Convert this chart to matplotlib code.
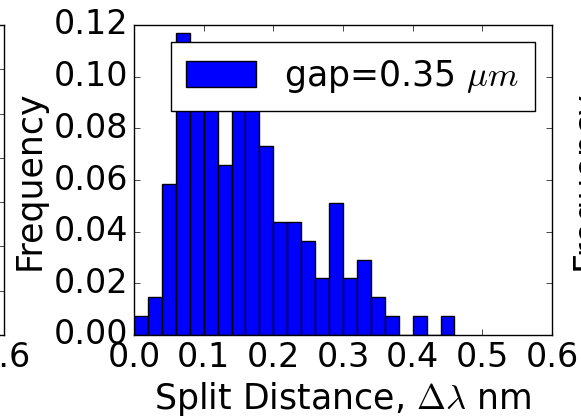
import numpy as np
import matplotlib
matplotlib.use("Agg")
import matplotlib.pyplot as plt

plt.style.use("classic")
plt.rcParams["font.family"] = ["DejaVu Sans"]
plt.rcParams["mathtext.fontset"] = "cm"

# Data: histogram bin edges (width 0.02) and relative frequency per bin
bin_left = [0.00, 0.02, 0.04, 0.06, 0.08, 0.10, 0.12, 0.14, 0.16, 0.18, 0.20, 0.22,
            0.24, 0.26, 0.28, 0.30, 0.32, 0.34, 0.36, 0.38, 0.40, 0.42, 0.44]
counts = [1, 2, 8, 16, 13, 14, 9, 13, 12, 10, 6, 6, 5, 3, 7, 3, 4, 2, 1, 0, 1, 0, 1]
n_total = 137
freq = [c / n_total for c in counts]
bin_width = 0.02
label = r"gap=0.35 $\mu m$"
xticks = [0.0, 0.1, 0.2, 0.3, 0.4, 0.5, 0.6]
yticks = [0.00, 0.02, 0.04, 0.06, 0.08, 0.10, 0.12]

W, H = 581, 420
fig = plt.figure(figsize=(W / 100, H / 100), dpi=100, facecolor="white")

def rect(x0, x1, y0, y1):
    return [x0 / W, 1 - y1 / H, (x1 - x0) / W, (y1 - y0) / H]

FS = 24
LFS = 25

# main panel
ax = fig.add_axes(rect(134, 552, 25, 335))
edges = bin_left + [bin_left[-1] + bin_width]
centers = [b + bin_width / 2 for b in bin_left]
ax.hist(centers, bins=edges, weights=freq, color="b", edgecolor="black",
        linewidth=1.0, label=label)
ax.set_xlim(0, 0.6)
ax.set_ylim(0, 0.12)
ax.set_xticks(xticks)
ax.set_yticks(yticks)
ax.tick_params(labelsize=FS)
ax.set_xlabel(r"Split Distance, $\Delta\lambda$ nm", fontsize=LFS)
ax.set_ylabel("Frequency", fontsize=LFS)
ax.legend(loc="upper right", fontsize=LFS, borderpad=0.45, handleheight=0.8,
          handlelength=2.0, handletextpad=0.8, borderaxespad=0.5)
ax.set_facecolor("white")

# partial neighbouring panels (cropped by the figure edge)
axl = fig.add_axes(rect(-414, 4, 25, 335))
axl.set_xlim(0, 0.6)
axl.set_ylim(0, 0.14)
axl.set_xticks(xticks)
axl.set_yticks(np.arange(0, 0.141, 0.02))
axl.tick_params(labelsize=FS)
axl.set_facecolor("white")

axr = fig.add_axes(rect(691, 1109, 25, 335))
axr.set_xlim(0, 0.6)
axr.set_ylim(0, 0.12)
axr.set_xticks(xticks)
axr.set_yticks(yticks)
axr.tick_params(labelsize=FS)
axr.set_ylabel("Frequency", fontsize=LFS)
axr.set_facecolor("white")

fig.savefig("out.png", dpi=100, facecolor="white")
